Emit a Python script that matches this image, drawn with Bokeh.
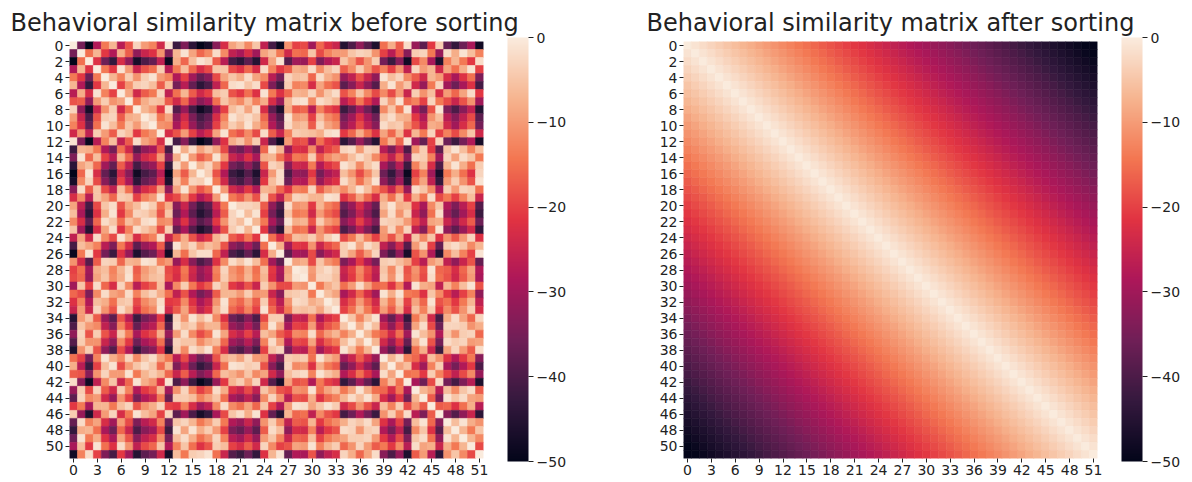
import numpy as np
from bokeh.plotting import figure
from bokeh.models import (LinearColorMapper, ColorBar, FixedTicker, Range1d, ColumnDataSource,
                          CustomJSTickFormatter, AllLabels)
from bokeh.layouts import row
from bokeh.transform import transform
from bokeh.embed import file_html
from bokeh.resources import INLINE

# ---- data ----
N = 52
# position of each row/column in the sorted (behavioral) order
row_rank = [51, 16, 1, 23, 37, 44, 24, 33, 48, 41, 38, 27, 50, 9, 17, 7, 0, 4, 18, 28,
            42, 45, 39, 46, 25, 10, 2, 40, 31, 32, 21, 35, 29, 26, 6, 11, 19, 12, 5, 36,
            43, 34, 49, 20, 13, 30, 47, 14, 8, 15, 22, 3]
sorted_rank = sorted(row_rank)
x_ticks = list(range(0, 52, 3))
y_ticks = list(range(0, 52, 2))
cbar_ticks = [0, -10, -20, -30, -40, -50]
titles = ["Behavioral similarity matrix before sorting",
          "Behavioral similarity matrix after sorting"]

# ---- rocket-like palette ----
anchors = ["#03051A", "#35193E", "#701F57", "#AD1759", "#E13342", "#F37651", "#F6B48F", "#FAEBDD"]
def hex2rgb(h):
    return np.array([int(h[i:i + 2], 16) for i in (1, 3, 5)], dtype=float)
arr = np.array([hex2rgb(h) for h in anchors])
pos = np.linspace(0, 1, len(anchors))
palette = []
for t in np.linspace(0, 1, 256):
    c = [np.interp(t, pos, arr[:, k]) for k in range(3)]
    palette.append("#%02x%02x%02x" % tuple(int(round(v)) for v in c))

mapper = LinearColorMapper(palette=palette, low=-50, high=0)
FONT = "DejaVu Sans"
TXT = "#222222"


def panel(ranks, title, width, left, right, title_align, title_offset):
    xs, ys, vals = [], [], []
    for i in range(N):
        for j in range(N):
            xs.append(j)
            ys.append(i)
            vals.append(-abs(ranks[i] - ranks[j]))
    src = ColumnDataSource(dict(x=xs, y=ys, v=vals))
    p = figure(width=width, height=482, x_range=Range1d(-0.5, N - 0.5),
               y_range=Range1d(N - 0.5, -0.5), output_backend="svg",
               toolbar_location=None, min_border_left=left, min_border_right=right,
               min_border_top=41, min_border_bottom=24, title=title)
    p.rect("x", "y", 1, 1, source=src, fill_color=transform("v", mapper),
           line_color=transform("v", mapper), line_width=0.6)
    p.grid.visible = False
    p.outline_line_color = None
    p.title.text_font = FONT
    p.title.text_font_size = "24px"
    p.title.text_font_style = "normal"
    p.title.text_color = TXT
    p.title.align = title_align
    p.title.offset = title_offset
    p.title.standoff = 9
    for ax, tk in ((p.xaxis, x_ticks), (p.yaxis, y_ticks)):
        ax.ticker = FixedTicker(ticks=tk)
        ax.axis_line_color = None
        ax.major_tick_in = 0
        ax.major_tick_out = 4
        ax.minor_tick_line_color = None
        ax.major_tick_line_color = TXT
        ax.major_label_text_font = FONT
        ax.major_label_text_font_size = "14px"
        ax.major_label_text_color = TXT
        ax.major_label_standoff = 2
    cb = ColorBar(color_mapper=mapper, ticker=FixedTicker(ticks=cbar_ticks), width=21,
                  height=424, margin=0, padding=0, location=(438, -3),
                  formatter=CustomJSTickFormatter(code="return String(tick).replace('-', '\u2212');"),
                  major_label_policy=AllLabels(), background_fill_alpha=0,
                  major_label_text_font=FONT, major_label_text_font_size="14px",
                  major_label_text_color=TXT,
                  major_tick_in=0, major_tick_out=5, major_tick_line_color=TXT,
                  minor_tick_line_color=None, bar_line_color=None, label_standoff=3)
    p.add_layout(cb)
    return p


p1 = panel(row_rank, titles[0], 600, 69, 117, "left", -59)
p2 = panel(sorted_rank, titles[1], 592, 83, 95, "center", 0)
lay = row(p1, p2)
open("out.html", "w").write(file_html(lay, INLINE))
